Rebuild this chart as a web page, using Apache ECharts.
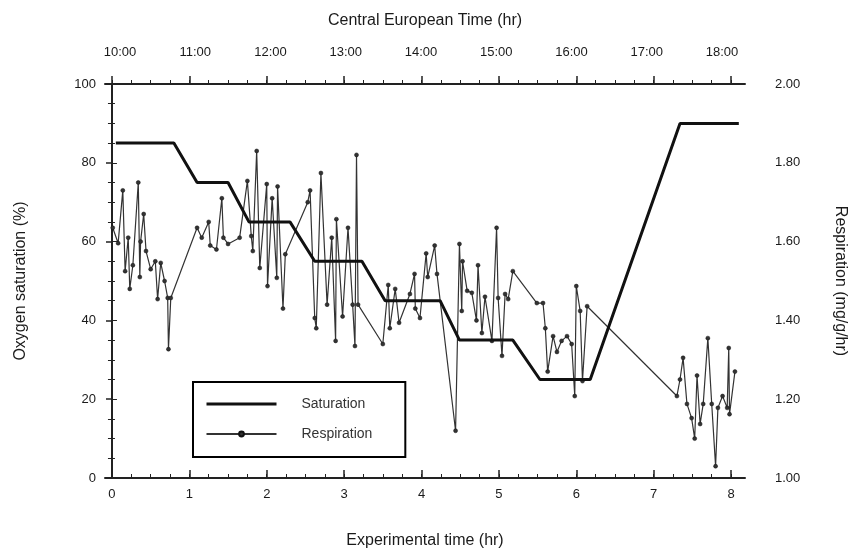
<!DOCTYPE html>
<html>
<head>
<meta charset="utf-8">
<script src="https://cdn.jsdelivr.net/npm/echarts@6/dist/echarts.min.js"></script>
<style>html,body{margin:0;padding:0;background:#fff}#c{width:854px;height:554px}</style>
</head>
<body>
<div id="c"></div>
<script>
// Saturation (%) vs experimental time (hr)
const satTime = [0.05, 0.8, 1.1, 1.5, 1.77, 2.3, 2.62, 3.23, 3.53, 4.24, 4.49, 5.18, 5.53, 6.18, 7.34, 8.1];
const saturation = [85, 85, 75, 75, 65, 65, 55, 55, 45, 45, 35, 35, 25, 25, 90, 90];

// Respiration (mg/g/hr) vs experimental time (hr)
const respTime = [0.01,0.08,0.14,0.17,0.21,0.23,0.27,0.34,0.36,0.37,0.41,0.44,0.50,0.56,0.59,0.63,0.68,0.72,0.73,0.76,
  1.10,1.16,1.25,1.27,1.35,1.42,1.44,1.50,1.65,1.75,1.80,1.82,1.87,1.91,2.00,2.01,2.07,2.13,2.14,2.21,2.24,
  2.53,2.56,2.62,2.64,2.70,2.78,2.84,2.89,2.90,2.98,3.05,3.11,3.14,3.16,3.18,
  3.50,3.57,3.59,3.66,3.71,3.85,3.91,3.92,3.98,4.06,4.08,4.17,4.20,
  4.44,4.49,4.52,4.53,4.59,4.65,4.71,4.73,4.78,4.82,4.91,4.97,4.99,5.04,5.08,5.12,5.18,
  5.49,5.57,5.60,5.63,5.70,5.75,5.81,5.88,5.94,5.98,6.00,6.05,6.08,6.14,
  7.30,7.34,7.38,7.43,7.49,7.53,7.56,7.60,7.64,7.70,7.75,7.80,7.83,7.89,7.95,7.97,7.98,8.05];
const respiration = [1.635,1.596,1.73,1.525,1.61,1.48,1.54,1.75,1.51,1.60,1.67,1.576,1.53,1.55,1.454,1.546,1.50,1.457,1.327,1.457,
  1.635,1.61,1.65,1.59,1.58,1.71,1.61,1.594,1.61,1.754,1.614,1.576,1.83,1.533,1.746,1.487,1.71,1.508,1.74,1.43,1.568,
  1.70,1.73,1.406,1.38,1.774,1.44,1.61,1.348,1.657,1.41,1.635,1.44,1.335,1.82,1.44,
  1.34,1.49,1.38,1.48,1.394,1.467,1.518,1.43,1.406,1.57,1.51,1.59,1.518,
  1.12,1.594,1.424,1.55,1.475,1.47,1.40,1.54,1.368,1.46,1.348,1.635,1.457,1.31,1.467,1.454,1.525,
  1.444,1.444,1.38,1.27,1.36,1.32,1.348,1.36,1.34,1.208,1.487,1.424,1.246,1.436,
  1.208,1.25,1.305,1.188,1.152,1.10,1.26,1.137,1.188,1.355,1.188,1.03,1.178,1.208,1.178,1.33,1.162,1.27];

const bottomTicks = [0, 1, 2, 3, 4, 5, 6, 7, 8];
const quarterTicks = [];
for (let i = 0; i <= 32; i++) quarterTicks.push(i / 4);
const topLabels = ['10:00', '11:00', '12:00', '13:00', '14:00', '15:00', '16:00', '17:00', '18:00'];

const font = 'Liberation Sans';
const ink = '#1a1a1a';
const X_MIN = -0.09, X_MAX = 8.18;
const TOP_LABEL_MIN = -0.2, TOP_LABEL_MAX = 8.305;

const chart = echarts.init(document.getElementById('c'));
chart.setOption({
  animation: false,
  backgroundColor: '#fff',
  textStyle: { fontFamily: font, color: ink },
  grid: { left: 105, right: 109, top: 84, bottom: 76, containLabel: false, outerBoundsMode: 'none' },
  legend: {
    orient: 'vertical',
    left: 193, top: 382,
    borderColor: '#000', borderWidth: 2,
    padding: [15, 33, 16, 12],
    itemWidth: 70, itemHeight: 6, itemGap: 16,
    textStyle: { fontFamily: font, fontSize: 14, color: '#333', padding: [0, 0, 0, 20] },
    data: [
      { name: 'Saturation', itemStyle: { opacity: 0 }, lineStyle: { width: 3, color: '#111' } },
      { name: 'Respiration' }
    ]
  },
  xAxis: [
    {
      type: 'value', position: 'bottom', min: X_MIN, max: X_MAX,
      name: 'Experimental time (hr)', nameLocation: 'middle', nameGap: 55,
      nameTextStyle: { fontFamily: font, fontSize: 16, color: ink },
      axisLine: { lineStyle: { color: '#222', width: 2 } },
      axisTick: { inside: true, length: 8, customValues: bottomTicks, lineStyle: { color: '#222', width: 1.5 } },
      axisLabel: { customValues: bottomTicks, margin: 10, fontFamily: font, fontSize: 13, color: ink },
      splitLine: { show: false }
    },
    {
      type: 'value', position: 'top', min: X_MIN, max: X_MAX,
      name: 'Central European Time (hr)', nameLocation: 'middle', nameGap: 55,
      nameTextStyle: { fontFamily: font, fontSize: 16, color: ink },
      axisLine: { lineStyle: { color: '#222', width: 2 } },
      axisTick: { length: 8, customValues: bottomTicks, lineStyle: { color: '#222', width: 1.5 } },
      axisLabel: { show: false },
      splitLine: { show: false }
    },
    {
      type: 'value', position: 'bottom', min: X_MIN, max: X_MAX,
      axisLine: { show: false },
      axisTick: { inside: true, length: 4, customValues: quarterTicks, lineStyle: { color: '#222' } },
      axisLabel: { show: false }, splitLine: { show: false }
    },
    {
      type: 'value', position: 'top', min: X_MIN, max: X_MAX,
      axisLine: { show: false },
      axisTick: { length: 4, customValues: quarterTicks, lineStyle: { color: '#222' } },
      axisLabel: { show: false }, splitLine: { show: false }
    },
    {
      type: 'value', position: 'top', min: TOP_LABEL_MIN, max: TOP_LABEL_MAX,
      axisLine: { show: false }, axisTick: { show: false },
      axisLabel: { customValues: bottomTicks, margin: 25, fontFamily: font, fontSize: 13, color: ink,
        formatter: function (v) { return topLabels[Math.round(v)]; } },
      splitLine: { show: false }
    }
  ],
  yAxis: [
    {
      type: 'value', position: 'left', min: 0, max: 100, interval: 20,
      name: 'Oxygen saturation (%)', nameLocation: 'middle', nameGap: 76,
      nameTextStyle: { fontFamily: font, fontSize: 16, color: ink },
      axisLine: { show: true, lineStyle: { color: '#222', width: 2 } },
      axisTick: { show: true, length: 6, lineStyle: { color: '#222', width: 1.5 } },
      minorTick: { show: true, splitNumber: 4, length: 4, lineStyle: { color: '#222' } },
      axisLabel: { margin: 9, fontFamily: font, fontSize: 13, color: ink, padding: [0, 0, 10, 0] },
      splitLine: { show: false }
    },
    {
      type: 'value', position: 'right', min: 1, max: 2, interval: 0.2,
      name: 'Respiration (mg/g/hr)', nameLocation: 'middle', nameGap: 87, nameRotate: -90,
      nameTextStyle: { fontFamily: font, fontSize: 16, color: ink },
      axisLine: { show: true, lineStyle: { color: '#222', width: 1.5 } },
      axisTick: { show: true, length: 5, lineStyle: { color: '#222' } },
      minorTick: { show: true, splitNumber: 4, length: 3, lineStyle: { color: '#222' } },
      axisLabel: { margin: 30, fontFamily: font, fontSize: 13, color: ink,
        formatter: function (v) { return v.toFixed(2); } },
      splitLine: { show: false }
    }
  ],
  series: [
    {
      name: 'Saturation', type: 'line', xAxisIndex: 0, yAxisIndex: 0,
      symbol: 'none', lineStyle: { color: '#111', width: 3 }, itemStyle: { color: '#111' },
      data: satTime.map((t, i) => [t, saturation[i]]), z: 3
    },
    {
      name: 'Respiration', type: 'line', xAxisIndex: 0, yAxisIndex: 1,
      symbol: 'circle', symbolSize: 4,
      lineStyle: { color: '#333', width: 1.2 },
      itemStyle: { color: '#333', borderColor: '#111', borderWidth: 0.5 },
      data: respTime.map((t, i) => [t, respiration[i]]), z: 2
    }
  ]
});
</script>
</body>
</html>
